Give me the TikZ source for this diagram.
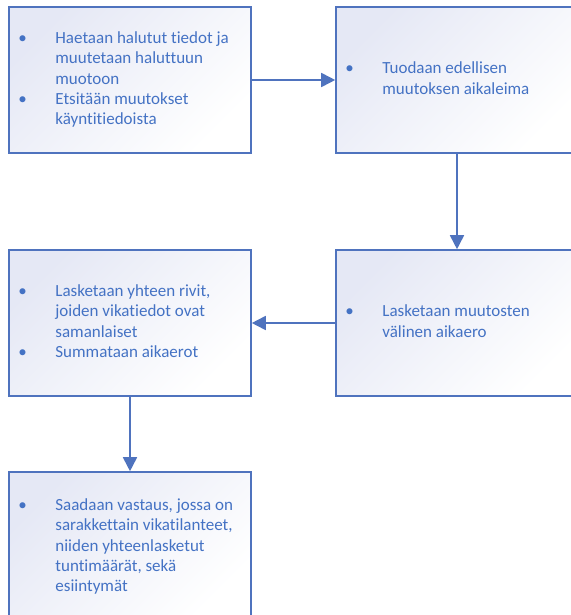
\documentclass[tikz,border=0pt]{standalone}
\usepackage{fontspec}
\setmainfont{Carlito}[Ligatures=NoCommon]
\usetikzlibrary{arrows.meta}
\definecolor{txt}{HTML}{4472C4}
\definecolor{bord}{HTML}{4F73BE}
\definecolor{shadeA}{HTML}{E5E8F5}
\newcommand{\bl}{\textbullet}
\begin{document}
\begin{tikzpicture}[x=1pt,y=1pt,
 box/.style={draw=bord, line width=1.6pt, minimum width=242pt, minimum height=146pt, inner sep=0pt, top color=shadeA, bottom color=white, shading angle=45},
 lbl/.style={anchor=west, inner sep=0pt, text=txt, font=\fontsize{17}{20.4}\selectfont},
 conn/.style={draw=bord, line width=1.7pt, -{Triangle[length=14pt,width=14pt]}}]
\useasboundingbox (0,0) rectangle (570,-615);
\fill[white] (0,0) rectangle (570,-615);
\node[box] (b1) at (130,-80) {};
\node[box] (b2) at (457,-80) {};
\node[box] (b4) at (457,-323) {};
\node[box] (b3) at (130,-323) {};
\node[box] (b5) at (130,-545) {};
\node[lbl] (t1) at ([xshift=10pt]b1.west) {\begin{tabular}{@{}p{37pt}@{}l@{}}\bl & Haetaan halutut tiedot ja\\ & muutetaan haluttuun\\ & muotoon\\ \bl & Etsitään muutokset\\ & käyntitiedoista\end{tabular}};
\node[lbl] (t2) at ([xshift=10pt]b2.west) {\begin{tabular}{@{}p{37pt}@{}l@{}}\bl & Tuodaan edellisen\\ & muutoksen aikaleima\end{tabular}};
\node[lbl] (t4) at ([xshift=10pt]b4.west) {\begin{tabular}{@{}p{37pt}@{}l@{}}\bl & Lasketaan muutosten\\ & välinen aikaero\end{tabular}};
\node[lbl] (t3) at ([xshift=10pt]b3.west) {\begin{tabular}{@{}p{37pt}@{}l@{}}\bl & Lasketaan yhteen rivit,\\ & joiden vikatiedot ovat\\ & samanlaiset\\ \bl & Summataan aikaerot\end{tabular}};
\node[lbl] (t5) at ([xshift=10pt,yshift=-2pt]b5.west) {\begin{tabular}{@{}p{37pt}@{}l@{}}\bl & Saadaan vastaus, jossa on\\ & sarakkettain vikatilanteet,\\ & niiden yhteenlasketut\\ & tuntimäärät, sekä\\ & esiintymät\end{tabular}};
\draw[conn] (b1) -- (b2);
\draw[conn] (b2) -- (b4);
\draw[conn] (b4) -- (b3);
\draw[conn] (b3) -- (b5);
\end{tikzpicture}
\end{document}
